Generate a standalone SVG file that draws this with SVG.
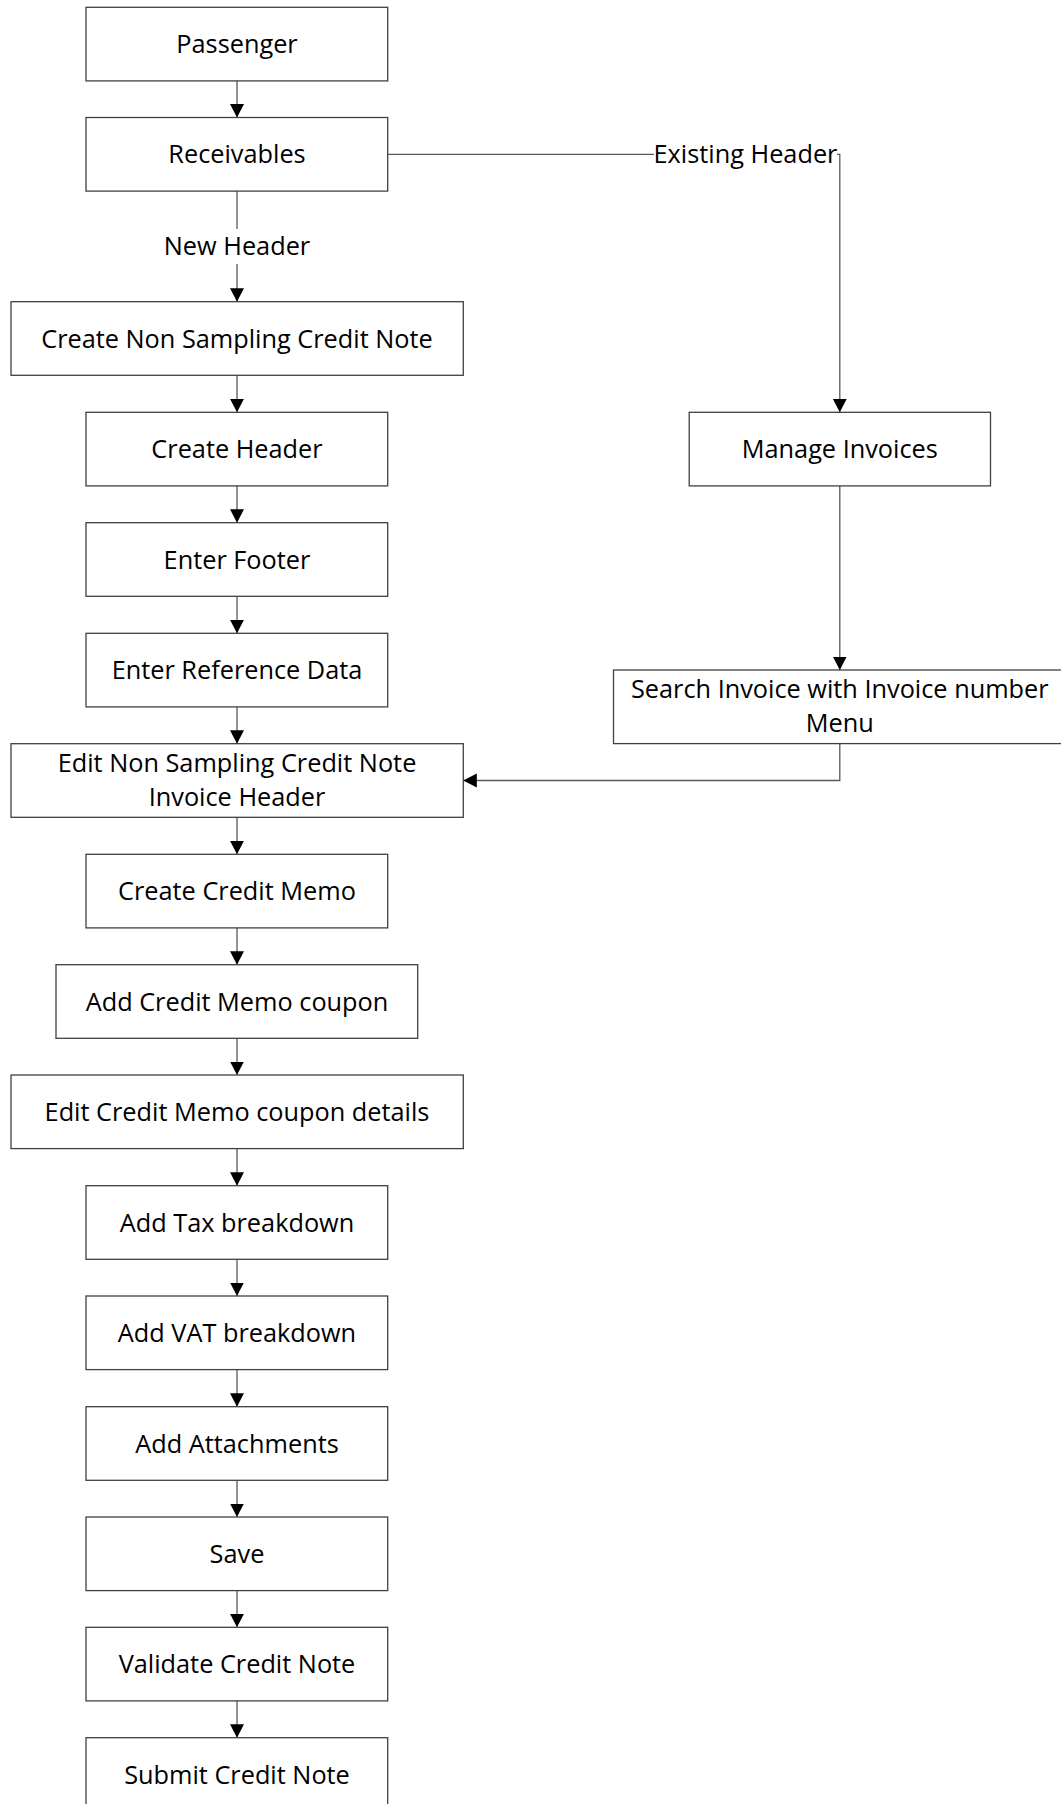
<svg xmlns="http://www.w3.org/2000/svg" width="1061" height="1804" viewBox="0 0 1061 1804">
<style>
  .box { fill: #ffffff; stroke: #404040; stroke-width: 1.3; }
  .lbl { font-family: "Open Sans", "Noto Sans", "Liberation Sans", sans-serif; font-size: 25.3px; fill: #000000; text-anchor: middle; }
  .conn { fill: none; stroke: #595959; stroke-width: 1.3; }
  .bg { fill: #ffffff; stroke: none; }
</style>
<defs>
  <marker id="arr" markerWidth="15" markerHeight="15" refX="13.5" refY="7" orient="auto" markerUnits="userSpaceOnUse">
    <path d="M0,0 L13.5,7 L0,14 Z" fill="#000000"/>
  </marker>
</defs>
<rect x="0" y="0" width="1061" height="1804" fill="#ffffff"/>

<g id="connectors">
  <path class="conn" d="M237,80.9 V117.5" marker-end="url(#arr)"/>
  <path class="conn" d="M237,191.1 V301.7" marker-end="url(#arr)"/>
  <path class="conn" d="M387.7,154.3 H839.8 V412.3" marker-end="url(#arr)"/>
  <path class="conn" d="M237,375.3 V412.3" marker-end="url(#arr)"/>
  <path class="conn" d="M237,485.9 V522.7" marker-end="url(#arr)"/>
  <path class="conn" d="M237,596.3 V633.3" marker-end="url(#arr)"/>
  <path class="conn" d="M237,706.9 V743.7" marker-end="url(#arr)"/>
  <path class="conn" d="M839.8,485.9 V670" marker-end="url(#arr)"/>
  <path class="conn" d="M839.8,743.6 V780.5 H463.3" marker-end="url(#arr)"/>
  <path class="conn" d="M237,817.3 V854.3" marker-end="url(#arr)"/>
  <path class="conn" d="M237,927.9 V964.7" marker-end="url(#arr)"/>
  <path class="conn" d="M237,1038.3 V1075" marker-end="url(#arr)"/>
  <path class="conn" d="M237,1148.6 V1185.7" marker-end="url(#arr)"/>
  <path class="conn" d="M237,1259.3 V1296" marker-end="url(#arr)"/>
  <path class="conn" d="M237,1369.6 V1406.7" marker-end="url(#arr)"/>
  <path class="conn" d="M237,1480.3 V1517" marker-end="url(#arr)"/>
  <path class="conn" d="M237,1590.6 V1627.3" marker-end="url(#arr)"/>
  <path class="conn" d="M237,1700.9 V1737.7" marker-end="url(#arr)"/>
  <g id="label-new-header">
    <rect class="bg" x="162" y="229" width="150" height="35"/>
    <text class="lbl" x="237" y="255">New Header</text>
  </g>
  <g id="label-existing-header">
    <rect class="bg" x="654" y="138" width="183" height="32"/>
    <text class="lbl" x="745.5" y="163.3">Existing Header</text>
  </g>
</g>

<g id="n-passenger"><rect class="box" x="86" y="7.3" width="301.7" height="73.6"/><text class="lbl" x="237" y="53.1">Passenger</text></g>
<g id="n-receivables"><rect class="box" x="86" y="117.5" width="301.7" height="73.6"/><text class="lbl" x="237" y="163.3">Receivables</text></g>
<g id="n-create-nscn"><rect class="box" x="11" y="301.7" width="452.3" height="73.6"/><text class="lbl" x="237" y="347.5">Create Non Sampling Credit Note</text></g>
<g id="n-create-header"><rect class="box" x="86" y="412.3" width="301.7" height="73.6"/><text class="lbl" x="237" y="458.1">Create Header</text></g>
<g id="n-enter-footer"><rect class="box" x="86" y="522.7" width="301.7" height="73.6"/><text class="lbl" x="237" y="568.5">Enter Footer</text></g>
<g id="n-enter-ref"><rect class="box" x="86" y="633.3" width="301.7" height="73.6"/><text class="lbl" x="237" y="679.1">Enter Reference Data</text></g>
<g id="n-edit-nscn"><rect class="box" x="11" y="743.7" width="452.3" height="73.6"/><text class="lbl" x="237" y="772">Edit Non Sampling Credit Note</text><text class="lbl" x="237" y="806">Invoice Header</text></g>
<g id="n-manage-invoices"><rect class="box" x="689.2" y="412.3" width="301.3" height="73.6"/><text class="lbl" x="839.8" y="458.1">Manage Invoices</text></g>
<g id="n-search-invoice"><rect class="box" x="613.5" y="670" width="452.5" height="73.6"/><text class="lbl" x="839.8" y="698.3">Search Invoice with Invoice number</text><text class="lbl" x="839.8" y="732.3">Menu</text></g>
<g id="n-create-credit-memo"><rect class="box" x="86" y="854.3" width="301.7" height="73.6"/><text class="lbl" x="237" y="900.1">Create Credit Memo</text></g>
<g id="n-add-coupon"><rect class="box" x="56" y="964.7" width="361.7" height="73.6"/><text class="lbl" x="237" y="1010.5">Add Credit Memo coupon</text></g>
<g id="n-edit-coupon"><rect class="box" x="11" y="1075" width="452.3" height="73.6"/><text class="lbl" x="237" y="1120.8">Edit Credit Memo coupon details</text></g>
<g id="n-tax"><rect class="box" x="86" y="1185.7" width="301.7" height="73.6"/><text class="lbl" x="237" y="1231.5">Add Tax breakdown</text></g>
<g id="n-vat"><rect class="box" x="86" y="1296" width="301.7" height="73.6"/><text class="lbl" x="237" y="1341.8">Add VAT breakdown</text></g>
<g id="n-attachments"><rect class="box" x="86" y="1406.7" width="301.7" height="73.6"/><text class="lbl" x="237" y="1452.5">Add Attachments</text></g>
<g id="n-save"><rect class="box" x="86" y="1517" width="301.7" height="73.6"/><text class="lbl" x="237" y="1562.8">Save</text></g>
<g id="n-validate"><rect class="box" x="86" y="1627.3" width="301.7" height="73.6"/><text class="lbl" x="237" y="1673.1">Validate Credit Note</text></g>
<g id="n-submit"><rect class="box" x="86" y="1737.7" width="301.7" height="73.6"/><text class="lbl" x="237" y="1783.5">Submit Credit Note</text></g>
</svg>
